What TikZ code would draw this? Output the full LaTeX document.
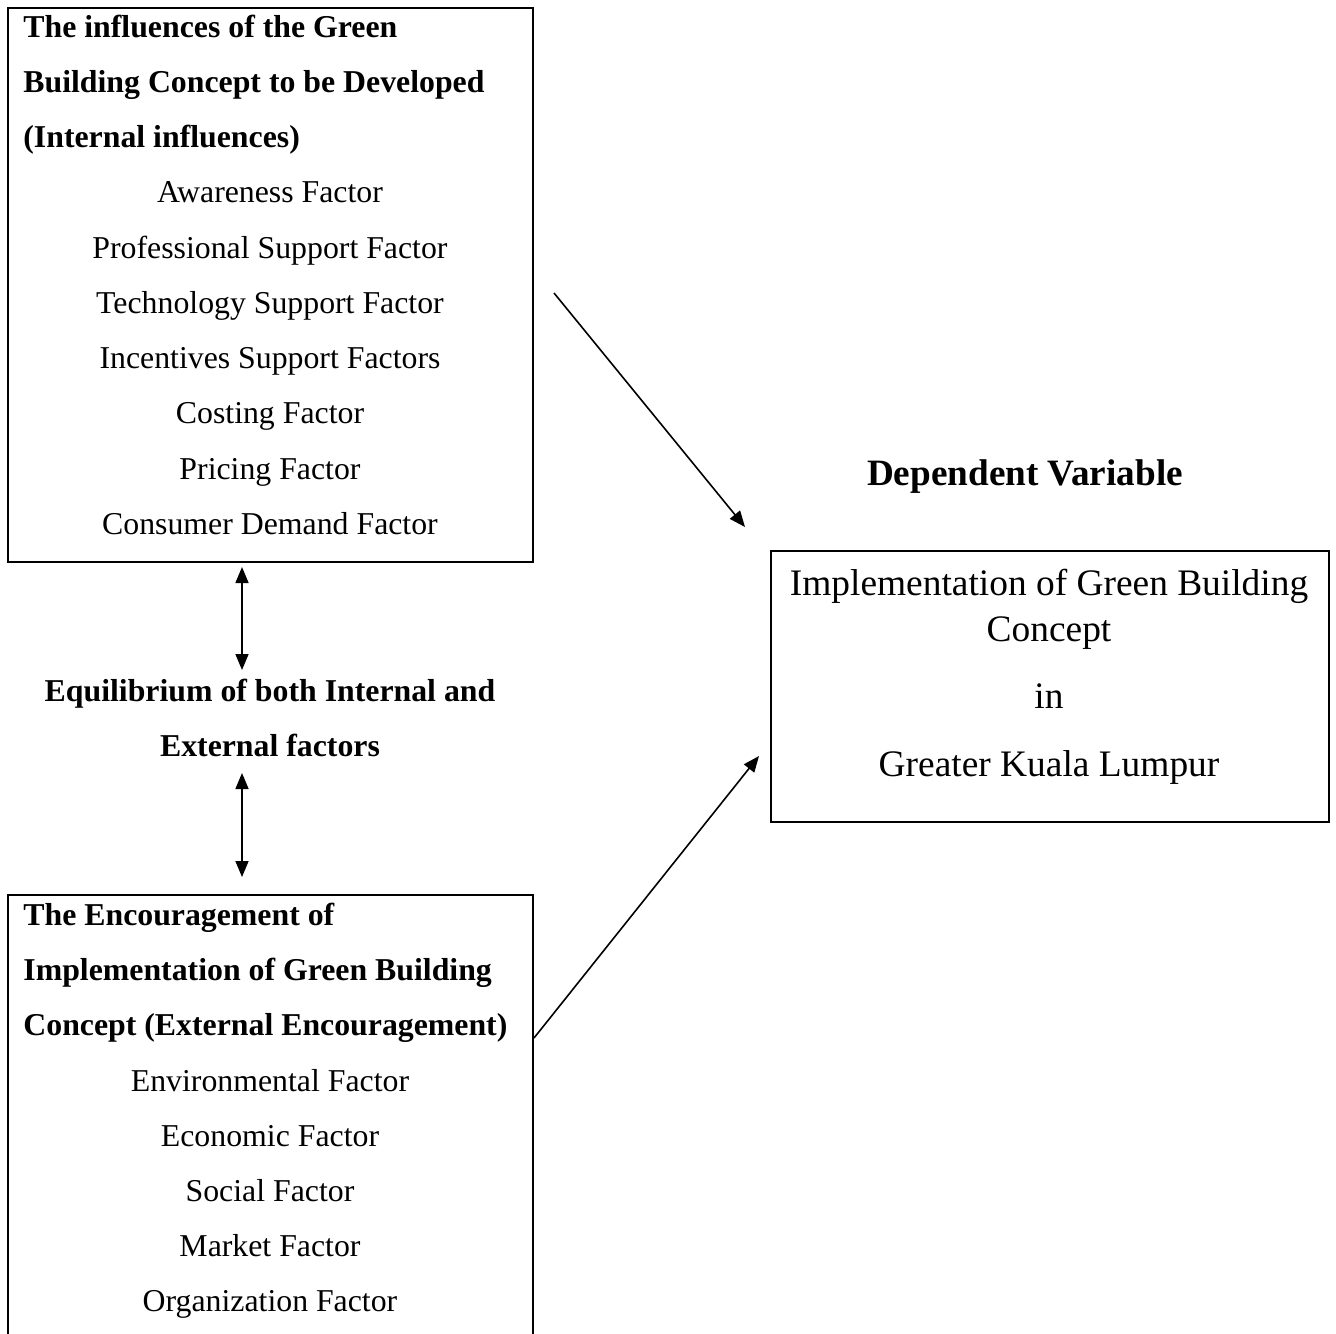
\documentclass[tikz,border=0pt]{standalone}
\usepackage{fontspec}
\setmainfont{Liberation Serif}
\usetikzlibrary{arrows.meta,fit}
\begin{document}
\begin{tikzpicture}[x=0.5pt,y=-0.5pt,
 box/.style={draw,line width=1pt,inner sep=0pt},
 txt/.style={anchor=base,inner sep=0pt,font=\fontsize{15.9}{19}\selectfont},
 head/.style={anchor=base west,inner sep=0pt,font=\fontsize{15.9}{19}\selectfont\bfseries},
 midhead/.style={anchor=base,inner sep=0pt,font=\fontsize{15.9}{19}\selectfont\bfseries},
 big/.style={anchor=base,inner sep=0pt,font=\fontsize{18.7}{22}\selectfont},
 bighead/.style={anchor=base,inner sep=0pt,font=\fontsize{18.6}{22}\selectfont\bfseries},
 conn/.style={line width=0.8pt,-{Triangle[length=8pt,width=6.5pt]}},
 dconn/.style={line width=0.8pt,{Triangle[length=8pt,width=6.5pt]}-{Triangle[length=8pt,width=6.5pt]}}]
\useasboundingbox (0,0) rectangle (1336,1333);
\clip (0,0) rectangle (1336,1333);
\fill[white] (0,0) rectangle (1336,1333);

% boxes
\node (inbox) [box,fit={(8,8)(533,562)}] {};
\node (exbox) [box,fit={(8,895)(533,1350)}] {};
\node (depbox) [box,fit={(771,551)(1329,822)}] {};

% internal box text
\node (ih1) [head] at (23,37) {The influences of the Green};
\node (ih2) [head] at (23,92.25) {Building Concept to be Developed};
\node (ih3) [head] at (23,147.5) {(Internal influences)};
\node (i1) [txt] at (270,202.75) {Awareness Factor};
\node (i2) [txt] at (270,258) {Professional Support Factor};
\node (i3) [txt] at (270,313.25) {Technology Support Factor};
\node (i4) [txt] at (270,368.5) {Incentives Support Factors};
\node (i5) [txt] at (270,423.75) {Costing Factor};
\node (i6) [txt] at (270,479) {Pricing Factor};
\node (i7) [txt] at (270,534.25) {Consumer Demand Factor};

% equilibrium
\node (eq1) [midhead] at (270,701.5) {Equilibrium of both Internal and};
\node (eq2) [midhead] at (270,756.5) {External factors};

% external box text
\node (eh1) [head] at (23,925) {The Encouragement of};
\node (eh2) [head] at (23,980) {Implementation of Green Building};
\node (eh3) [head] at (23,1035.5) {Concept (External Encouragement)};
\node (e1) [txt] at (270,1091) {Environmental Factor};
\node (e2) [txt] at (270,1146) {Economic Factor};
\node (e3) [txt] at (270,1201) {Social Factor};
\node (e4) [txt] at (270,1256.5) {Market Factor};
\node (e5) [txt] at (270,1311.5) {Organization Factor};

% dependent variable
\node (dv) [bighead] at (1025,485) {Dependent Variable};
\node (d1) [big] at (1049,595) {Implementation of Green Building};
\node (d2) [big] at (1049,641.5) {Concept};
\node (d3) [big] at (1049,708) {in};
\node (d4) [big] at (1049,776.5) {Greater Kuala Lumpur};

% connector ends
\coordinate (a1s) at (554,293);
\coordinate (a1e) at (745,527);
\coordinate (a2s) at (534,1038);
\coordinate (a2e) at (759,756);
\coordinate (v1s) at (242,567);
\coordinate (v1e) at (242,670);
\coordinate (v2s) at (242,773);
\coordinate (v2e) at (242,877);

\draw[conn] (a1s) -- (a1e);
\draw[conn] (a2s) -- (a2e);
\draw[dconn] (v1s) -- (v1e);
\draw[dconn] (v2s) -- (v2e);
\end{tikzpicture}
\end{document}
